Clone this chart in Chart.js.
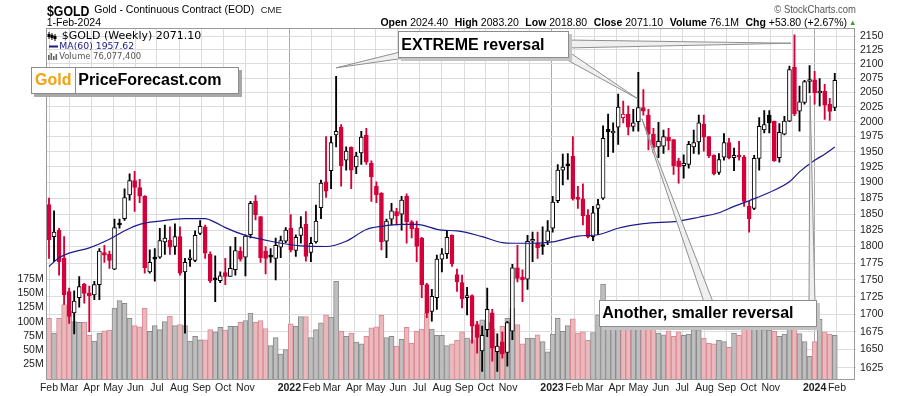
<!DOCTYPE html>
<html>
<head>
<meta charset="utf-8">
<script src="https://cdn.jsdelivr.net/npm/chart.js@4.4.1/dist/chart.umd.min.js"></script>
<style>
  body { margin: 0; background: #fff; }
  #wrap { position: relative; width: 900px; height: 396px; overflow: hidden; font-family: 'Liberation Sans', Arial, sans-serif; color: #000; }
  #wrap canvas { position: absolute; left: 0; top: 0; }
  .t { position: absolute; white-space: nowrap; line-height: 1; }
  .it { margin-left: 6.5px; }
  .leg { font-family: 'DejaVu Sans', Verdana, sans-serif; }
  .callout { position: absolute; box-sizing: border-box; background: #fff; border: 1px solid #8c8c8c;
             box-shadow: 3px 3px 0 #c4c4c4; font: bold 16px 'Liberation Sans', Arial, sans-serif;
             padding-left: 2px; white-space: nowrap; }
  #logo { position: absolute; left: 30.7px; top: 67.3px; height: 26.7px; display: flex; box-shadow: 3px 3px 0 #a8a8a8; }
  #logo div { box-sizing: border-box; height: 100%; background: #fff; border: 1px solid #8c8c8c;
              font: bold 16px 'Liberation Sans', Arial, sans-serif; line-height: 24.7px; white-space: nowrap; }
</style>
</head>
<body>
<div id="wrap">
  <canvas id="chart" width="900" height="396"></canvas>

  <div class="t" style="left:46.5px;top:1.5px;font:bold 15px 'Liberation Sans',Arial,sans-serif;transform:scaleX(0.82);transform-origin:0 0;">$GOLD</div>
  <div class="t" style="left:94.3px;top:3.8px;font-size:10.5px;">Gold - Continuous Contract (EOD)</div>
  <div class="t" style="left:260.7px;top:4.8px;font-size:9.5px;color:#222;">CME</div>
  <div class="t" style="left:46.7px;top:17.2px;font-size:10.5px;">1-Feb-2024</div>
  <div class="t" id="ohlc" style="right:53px;top:17.2px;font-size:10.5px;"></div>
  <div class="t" style="left:849px;top:18.5px;font-size:7.5px;color:#3a9a3a;">&#9650;</div>
  <div class="t" style="right:44px;top:4px;font-size:11px;color:#555;transform:scaleX(0.86);transform-origin:100% 0;">&copy; StockCharts.com</div>

  <div class="t leg" id="legSym" style="left:61.7px;top:30px;font-size:11px;"></div>
  <div class="t leg" id="legMa" style="left:59.3px;top:41.1px;font-size:9.3px;color:#1a1a8c;"></div>
  <div class="t leg" id="legVol" style="left:59.3px;top:52.4px;font-size:8.4px;color:#555;"></div>

  <div id="logo">
    <div style="width:45px;color:#f5a10d;text-align:center;">Gold</div>
    <div style="width:163.3px;border-left:none;padding-left:2.6px;">PriceForecast.com</div>
  </div>

  <div class="callout" style="left:398.3px;top:31px;width:170.7px;height:27px;line-height:25px;">EXTREME reversal</div>
  <div class="callout" style="left:599.3px;top:300px;width:217.4px;height:26.7px;line-height:24.7px;">Another, smaller reversal</div>
</div>

<script>
// weekly bars, first bar = week of 1-Feb-2021 (index 0), last = week of 29-Jan-2024
const opens = [
  1865,1815,1825,1782,1733,1702,1724,1744,1731,1728,
  1743,1791,1788,1766,1836,1843,1880,1903,1892,1878,
  1762,1782,1784,1807,1810,1800,1815,1762,1780,1779,
  1820,1830,1788,1753,1749,1761,1755,1765,1793,1784,
  1818,1870,1846,1793,1786,1782,1799,1808,1828,1794,
  1817,1834,1791,1807,1860,1901,1919,1978,1991,1936,
  1957,1925,1948,1977,1931,1894,1883,1808,1842,1854,
  1850,1878,1838,1828,1813,1743,1704,1724,1781,1789,
  1817,1758,1746,1724,1727,1685,1648,1678,1702,1647,
  1661,1646,1676,1768,1754,1751,1808,1805,1802,1808,
  1828,1871,1920,1929,1943,1875,1874,1848,1815,1859,
  1875,1987,1981,1991,2007,2013,1992,2000,2024,2011,
  1979,1958,1959,1974,1970,1935,1927,1929,1958,1966,
  1996,1975,1944,1916,1941,1965,1940,1944,1941,1862,
  1859,1939,1986,2011,2001,1940,1979,2001,2094,2018,
  2033,2069,2072,2049,2052,2030,2024.4
];
const highs = [
  1875,1855,1828,1815,1738,1734,1755,1745,1741,1748,
  1797,1802,1793,1842,1842,1890,1914,1918,1905,1879,
  1795,1797,1828,1833,1830,1835,1830,1782,1795,1824,
  1840,1833,1792,1786,1762,1782,1800,1814,1799,1818,
  1870,1879,1846,1800,1797,1813,1816,1829,1849,1818,
  1846,1854,1814,1864,1904,1975,1975,2078,1995,1958,
  1958,1949,1984,1989,1935,1901,1884,1842,1867,1859,
  1878,1882,1840,1839,1814,1745,1736,1787,1797,1824,
  1818,1766,1757,1739,1728,1690,1683,1738,1707,1672,
  1675,1690,1773,1802,1765,1817,1822,1822,1830,1840,
  1878,1929,1946,1947,1975,1894,1898,1857,1862,1873,
  1993,2013,1998,2047,2035,2027,2021,2085,2055,2021,
  1989,1999,1986,1989,1970,1939,1945,1967,1986,2011,
  2011,1975,1945,1947,1980,1972,1956,1967,1944,1870,
  1944,2007,2019,2019,2001,1997,2009,2096,2152,2061,
  2071,2097,2087,2074,2064,2040,2083.2
];
const lows = [
  1782,1777,1757,1714,1687,1672,1710,1716,1675,1721,
  1721,1776,1767,1765,1828,1840,1872,1854,1868,1760,
  1760,1748,1782,1788,1788,1788,1757,1673,1770,1777,
  1818,1782,1746,1718,1746,1743,1755,1757,1778,1756,
  1813,1841,1776,1759,1776,1750,1783,1806,1792,1785,
  1805,1778,1777,1805,1843,1876,1890,1958,1894,1920,
  1890,1914,1929,1929,1870,1868,1795,1783,1833,1833,
  1825,1805,1813,1777,1724,1695,1690,1707,1762,1782,
  1770,1733,1709,1699,1659,1645,1620,1668,1634,1620,
  1638,1627,1664,1747,1718,1736,1777,1782,1788,1803,
  1822,1868,1896,1905,1872,1859,1833,1813,1809,1818,
  1873,1942,1949,1962,1998,1978,1984,1984,2011,1953,
  1949,1940,1947,1953,1913,1899,1907,1923,1947,1946,
  1951,1940,1912,1913,1936,1938,1919,1936,1862,1822,
  1857,1920,1981,1981,1934,1933,1978,2000,2010,1984,
  2030,2049,2030,2027,2004,2002,2018.8
];
const closes = [
  1810,1822,1777,1728,1697,1719,1740,1730,1727,1743,
  1793,1787,1779,1829,1833,1876,1903,1892,1878,1768,
  1776,1781,1809,1813,1799,1815,1760,1776,1782,1817,
  1831,1790,1749,1750,1756,1755,1767,1794,1781,1816,
  1867,1849,1783,1782,1784,1802,1809,1825,1795,1814,
  1829,1785,1805,1839,1899,1886,1965,1984,1927,1951,
  1920,1943,1974,1933,1909,1880,1807,1839,1855,1847,
  1872,1838,1827,1800,1743,1702,1726,1781,1789,1814,
  1774,1747,1722,1727,1683,1667,1670,1707,1652,1655,
  1644,1688,1768,1752,1750,1808,1810,1798,1800,1824,
  1869,1920,1925,1927,1874,1873,1847,1815,1852,1865,
  1972,1983,1984,2025,2013,1991,1998,2024,2018,1979,
  1957,1967,1975,1968,1927,1925,1931,1962,1965,1998,
  1974,1943,1914,1937,1965,1940,1944,1941,1870,1843,
  1939,1992,1995,1998,1935,1982,2001,2090,2013,2034,
  2069,2072,2049,2051,2028,2017.3,2071.1
];
// volume in millions
const volumes = [
  106,80,106,130,118,100,99,99,76,66,
  80,84,85,124,137,132,106,93,91,124,
  83,93,86,100,110,93,95,93,66,74,
  68,68,86,82,90,85,92,92,99,102,
  115,99,102,88,58,72,43,51,96,92,
  109,109,72,86,98,112,108,171,83,74,
  80,64,61,74,89,91,111,72,74,57,
  69,90,62,83,87,115,87,76,76,58,
  61,67,82,71,68,96,103,99,87,55,
  92,106,124,95,61,71,71,77,65,47,
  78,106,83,93,105,80,82,67,81,112,
  166,120,100,105,112,108,98,125,110,112,
  104,80,77,84,74,82,76,78,86,86,
  71,62,61,67,65,55,80,76,118,105,
  110,115,86,85,83,74,78,105,125,79,
  65,39,65,104,82,78,76.0774
];
const prevClose = 1847; // close of the week before the first bar

// MA(60) at these bar indexes
const maWeeks = [0,2,4,8,12,15,18,22,27,31,33,35,39,44,50,55,59,63,66,70,73,78,81,86,90,92,96,100,105,109,113,118,125,129,133,136,139,143,147,149,152,154,156];
const maValues = [1770,1783,1790,1798,1811,1824,1834,1839,1843,1843,1837,1829,1817,1808,1801,1800,1808,1826,1831,1834,1834,1825,1824,1815,1806,1805,1805,1807,1816,1818,1828,1835,1839,1845,1852,1862,1871,1884,1901,1917,1936,1946,1957.62];

const priceTicks = [1625,1650,1675,1700,1725,1750,1775,1800,1825,1850,1875,1900,1925,1950,1975,2000,2025,2050,2075,2100,2125,2150];
const volumeTicks = [25,50,75,100,125,150,175];
const tickMonths = [
  '2021-02','2021-03','2021-04','2021-05','2021-06','2021-07','2021-08','2021-09','2021-10','2021-11','2021-12',
  '2022-01','2022-02','2022-03','2022-04','2022-05','2022-06','2022-07','2022-08','2022-09','2022-10','2022-11','2022-12',
  '2023-01','2023-02','2023-03','2023-04','2023-05','2023-06','2023-07','2023-08','2023-09','2023-10','2023-11','2023-12',
  '2024-01','2024-02'
];
const tickLabels = [
  'Feb','Mar','Apr','May','Jun','Jul','Aug','Sep','Oct','Nov','',
  '2022','Feb','Mar','Apr','May','Jun','Jul','Aug','Sep','Oct','Nov','',
  '2023','Feb','Mar','Apr','May','Jun','Jul','Aug','Sep','Oct','Nov','',
  '2024','Feb'
];

// callout pointers: tip at (bar index, price), base in page pixels (under the boxes)
const pointers = [
  { week: 57, price: 2093, base: [[400, 52], [412, 57]] },
  { week: 147.3, price: 2137, base: [[566, 40], [566, 48]] },
  { week: 116.9, price: 2039, base: [[560, 56], [566, 50]] },
  { week: 117.7, price: 2005, base: [[704, 302], [713, 302]] },
  { week: 151.1, price: 2045, base: [[809, 302], [815, 302]] }
];

const RED = '#d4003a';
const BLACK = '#000';
const FONT = "'Liberation Sans', Arial, sans-serif";

const startDay = Date.UTC(2021, 1, 1);
const dayOfMonth = (s) => (Date.UTC(+s.slice(0, 4), +s.slice(5, 7) - 1, 1) - startDay) / 864e5;
const weekX = (i) => i * 7;

const upWeek = closes.map((c, i) => c >= (i === 0 ? prevClose : closes[i - 1]));
const candleColor = upWeek.map(u => u ? BLACK : RED);
const hollow = closes.map((c, i) => c > opens[i]);
const yearIdx = new Set(tickLabels.map((l, i) => /^\d{4}$/.test(l) ? i : -1));

// header + legend texts from the data
const last = closes.length - 1;
const chg = closes[last] - closes[last - 1];
document.getElementById('ohlc').innerHTML =
  `<b>Open</b> ${opens[last].toFixed(2)}<span class="it"><b>High</b> ${highs[last].toFixed(2)}</span>` +
  `<span class="it"><b>Low</b> ${lows[last].toFixed(2)}</span><span class="it"><b>Close</b> ${closes[last].toFixed(2)}</span>` +
  `<span class="it"><b>Volume</b> ${volumes[last].toFixed(1)}M</span>` +
  `<span class="it"><b>Chg</b> +${chg.toFixed(2)} (+${(chg / closes[last - 1] * 100).toFixed(2)}%)</span>`;
document.getElementById('legSym').textContent = `$GOLD (Weekly) ${closes[last].toFixed(2)}`;
document.getElementById('legMa').textContent = `MA(60) ${maValues[maValues.length - 1].toFixed(2)}`;
document.getElementById('legVol').textContent = `Volume ${Math.round(volumes[last] * 1e6).toLocaleString('en-US')}`;

const overlay = {
  id: 'overlay',
  afterDatasetsDraw(chart) {
    const { ctx, chartArea: a } = chart;
    ctx.save();
    ctx.strokeStyle = '#9a9a9a';
    ctx.lineWidth = 1;
    ctx.strokeRect(Math.floor(a.left) + 0.5, Math.floor(a.top) + 0.5, Math.round(a.right - a.left) - 1, Math.round(a.bottom - a.top) - 1);
    ctx.restore();
  },
  afterDraw(chart) {
    const ctx = chart.ctx;
    const xs = chart.scales.x, ys = chart.scales.y;
    ctx.save();
    pointers.forEach(p => {
      const tx = xs.getPixelForValue(weekX(p.week));
      const ty = ys.getPixelForValue(p.price);
      ctx.beginPath();
      ctx.moveTo(p.base[0][0], p.base[0][1]);
      ctx.lineTo(tx, ty);
      ctx.lineTo(p.base[1][0], p.base[1][1]);
      ctx.closePath();
      ctx.fillStyle = '#efefef';
      ctx.fill();
      ctx.strokeStyle = '#8f8f8f';
      ctx.lineWidth = 1;
      ctx.stroke();
    });
    // legend icons
    ctx.fillStyle = '#000';
    [48.5, 51.5, 54.5].forEach((x, k) => {
      ctx.fillRect(x, 32 + k, 1, 7);
      ctx.fillRect(x - 1, 34 + k, 3, 3);
    });
    ctx.fillStyle = '#1a1a8c';
    ctx.fillRect(49, 45.5, 9, 2);
    ctx.fillStyle = '#666';
    [[48, 5], [50.5, 7], [53, 4], [55.5, 6]].forEach(([x, h]) => ctx.fillRect(x, 60 - h, 1.6, h));
    ctx.restore();
  }
};

new Chart(document.getElementById('chart'), {
  type: 'bar',
  data: {
    datasets: [
      {
        type: 'line',
        data: maWeeks.map((w, k) => ({ x: weekX(w), y: maValues[k] })),
        yAxisID: 'y',
        borderColor: '#1a1a8c',
        borderWidth: 1.2,
        pointRadius: 0,
        cubicInterpolationMode: 'monotone',
        order: 0
      },
      {
        data: opens.map((o, i) => ({ x: weekX(i), y: [o, closes[i]] })),
        yAxisID: 'y',
        backgroundColor: hollow.map((h, i) => h ? '#fff' : candleColor[i]),
        borderColor: candleColor,
        borderWidth: 1,
        borderSkipped: false,
        barThickness: 4,
        minBarLength: 2,
        grouped: false,
        order: 1
      },
      {
        data: lows.map((l, i) => ({ x: weekX(i), y: [l, highs[i]] })),
        yAxisID: 'y',
        backgroundColor: candleColor,
        borderWidth: 0,
        barThickness: 1.2,
        grouped: false,
        order: 2
      },
      {
        data: volumes.map((v, i) => ({ x: weekX(i), y: v })),
        yAxisID: 'yv',
        base: -2.5,
        backgroundColor: upWeek.map(u => u ? '#bebebe' : '#ebb9bd'),
        borderColor: upWeek.map(u => u ? '#8a8a8a' : '#d88a93'),
        borderWidth: 1,
        borderSkipped: false,
        barThickness: 5,
        grouped: false,
        order: 3
      }
    ]
  },
  options: {
    responsive: false,
    animation: false,
    devicePixelRatio: 1,
    layout: { padding: { top: 28.5, left: 0, right: 0, bottom: 0 } },
    plugins: { legend: { display: false }, tooltip: { enabled: false } },
    scales: {
      x: {
        type: 'linear',
        min: -3.2,
        max: 1121.5,
        offset: false,
        border: { display: false },
        grid: {
          offset: false,
          drawTicks: false,
          color: (c) => yearIdx.has(c.index) ? '#a9a9a9' : '#dcdcdc'
        },
        ticks: {
          autoSkip: false,
          maxRotation: 0,
          padding: 2,
          color: '#222',
          font: (c) => ({ family: FONT, size: 10.5, weight: yearIdx.has(c.index) ? 'bold' : 'normal' }),
          callback: (v, i) => tickLabels[i]
        },
        afterBuildTicks: (s) => { s.ticks = tickMonths.map(m => ({ value: dayOfMonth(m) })); },
        afterFit: (s) => { s.height = 16; }
      },
      y: {
        type: 'logarithmic',
        position: 'right',
        min: 1608.2,
        max: 2163.7,
        border: { display: false },
        grid: { color: '#dcdcdc', drawTicks: false },
        ticks: {
          autoSkip: false,
          padding: 4,
          color: '#222',
          font: { family: FONT, size: 10.5 },
          callback: (v) => String(v)
        },
        afterBuildTicks: (s) => { s.ticks = priceTicks.map(v => ({ value: v })); },
        afterFit: (s) => { s.width = 44; }
      },
      yv: {
        axis: 'y',
        type: 'linear',
        position: 'left',
        min: -2.5,
        max: 615,
        border: { display: false },
        grid: { display: false, drawTicks: false },
        ticks: {
          autoSkip: false,
          padding: 3,
          color: '#222',
          font: { family: FONT, size: 10.5 },
          callback: (v) => v + 'M'
        },
        afterBuildTicks: (s) => { s.ticks = volumeTicks.map(v => ({ value: v })); },
        afterFit: (s) => { s.width = 46.7; }
      }
    }
  },
  plugins: [overlay]
});
</script>
</body>
</html>
